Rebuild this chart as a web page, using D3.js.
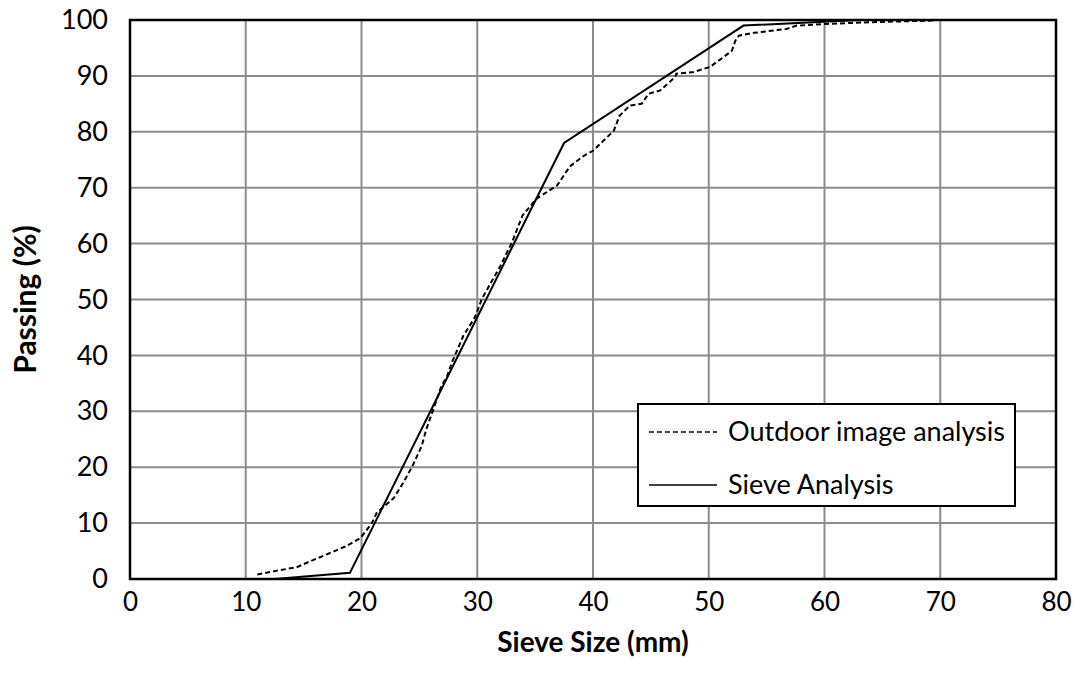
<!DOCTYPE html>
<html>
<head>
<meta charset="utf-8">
<script src="https://cdn.jsdelivr.net/npm/d3@7"></script>
<style>
  html, body { margin: 0; padding: 0; background: #fff; }
  svg text { font-family: Lato, "Open Sans", "Liberation Sans", sans-serif; fill: #000; }
</style>
</head>
<body>
<svg id="chart" width="1085" height="677"></svg>
<script>
// Grain size distribution: image analysis vs. sieve analysis
const xTicks = [0, 10, 20, 30, 40, 50, 60, 70, 80];
const yTicks = [0, 10, 20, 30, 40, 50, 60, 70, 80, 90, 100];

// Outdoor image analysis (dashed)
const imageSize = [11.0, 12.7, 14.4, 15.6, 17.0, 18.7, 19.9, 20.9, 21.3, 22.8, 23.6, 24.4, 25.2, 25.6, 26.2, 26.9, 27.4, 27.8, 28.8, 29.8, 30.4, 31.1, 32.0, 33.0, 33.9, 35.1, 36.9, 38.0, 39.2, 40.0, 41.8, 42.3, 43.2, 44.2, 44.8, 45.8, 47.1, 47.2, 48.7, 50.1, 51.1, 52.0, 52.3, 52.6, 53.9, 56.7, 57.6, 60.2, 63.9, 69.4];
const imagePassing = [0.8, 1.5, 2.1, 3.2, 4.4, 5.9, 7.3, 10.0, 11.8, 14.5, 17.2, 20.2, 23.8, 26.8, 30.3, 34.5, 36.3, 38.7, 43.5, 46.8, 50.1, 52.7, 56.0, 60.2, 65.0, 68.0, 70.4, 73.8, 75.7, 76.6, 80.2, 82.9, 84.7, 85.0, 86.8, 87.4, 89.8, 90.4, 90.7, 91.6, 93.1, 94.5, 96.3, 97.2, 97.7, 98.4, 99.0, 99.3, 99.6, 99.9];

// Sieve analysis (solid)
const sieveSize = [9.5, 12.5, 19, 37.5, 53, 63];
const sievePassing = [0, 0, 1.1, 78, 99, 100];

const margin = { left: 130, right: 1056, top: 20, bottom: 579 };

const svg = d3.select("#chart");
const x = d3.scaleLinear().domain([0, 80]).range([margin.left, margin.right]);
const y = d3.scaleLinear().domain([0, 100]).range([margin.bottom, margin.top]);

// grid
const grid = svg.append("g").attr("stroke", "#8c8c8c").attr("stroke-width", 2);
grid.selectAll("line.v").data(xTicks.slice(1, -1)).join("line")
  .attr("x1", d => x(d)).attr("x2", d => x(d))
  .attr("y1", y(0)).attr("y2", y(100));
grid.selectAll("line.h").data(yTicks.slice(1, -1)).join("line")
  .attr("x1", x(0)).attr("x2", x(80))
  .attr("y1", d => y(d)).attr("y2", d => y(d));

// axes (labels only; frame drawn separately)
const xAxis = d3.axisBottom(x).tickValues(xTicks).tickSize(0).tickPadding(14);
const gx = svg.append("g").attr("transform", `translate(0,${y(0)})`).call(xAxis);
gx.select(".domain").remove();
gx.selectAll("text").style("font-size", "26px");

const yAxis = d3.axisLeft(y).tickValues(yTicks).tickSize(0).tickPadding(22);
const gy = svg.append("g").attr("transform", `translate(${x(0)},0)`).call(yAxis);
gy.select(".domain").remove();
gy.selectAll("text").style("font-size", "27px");

// series
const line = d3.line().x(d => x(d[0])).y(d => y(d[1]));
const imageData = imageSize.map((s, i) => [s, imagePassing[i]]);
const sieveData = sieveSize.map((s, i) => [s, sievePassing[i]]);

svg.append("path").datum(imageData).attr("d", line)
  .attr("fill", "none").attr("stroke", "#000").attr("stroke-width", 2)
  .attr("stroke-dasharray", "5,3");
svg.append("path").datum(sieveData).attr("d", line)
  .attr("fill", "none").attr("stroke", "#000").attr("stroke-width", 2);

// plot frame
svg.append("rect")
  .attr("x", x(0)).attr("y", y(100))
  .attr("width", x(80) - x(0)).attr("height", y(0) - y(100))
  .attr("fill", "none").attr("stroke", "#000").attr("stroke-width", 2.5);

// axis titles
svg.append("text")
  .attr("x", (x(0) + x(80)) / 2).attr("y", 652)
  .attr("text-anchor", "middle")
  .style("font-size", "28px").style("font-weight", "bold")
  .text("Sieve Size (mm)");
svg.append("text")
  .attr("transform", `translate(36,${(y(0) + y(100)) / 2}) rotate(-90)`)
  .attr("text-anchor", "middle")
  .style("font-size", "30px").style("font-weight", "bold")
  .text("Passing (%)");

// legend
const legend = svg.append("g");
legend.append("rect")
  .attr("x", 638).attr("y", 404).attr("width", 377).attr("height", 102)
  .attr("fill", "#fff").attr("stroke", "#000").attr("stroke-width", 2);
const items = [
  { label: "Outdoor image analysis", dash: "5,3" },
  { label: "Sieve Analysis", dash: null }
];
items.forEach((it, i) => {
  const cy = 432 + i * 53;
  legend.append("line")
    .attr("x1", 649).attr("x2", 717).attr("y1", cy).attr("y2", cy)
    .attr("stroke", "#000").attr("stroke-width", 1.5)
    .attr("stroke-dasharray", it.dash);
  legend.append("text")
    .attr("x", 728).attr("y", cy).attr("dy", "0.35em")
    .style("font-size", "27px")
    .text(it.label);
});
</script>
</body>
</html>
